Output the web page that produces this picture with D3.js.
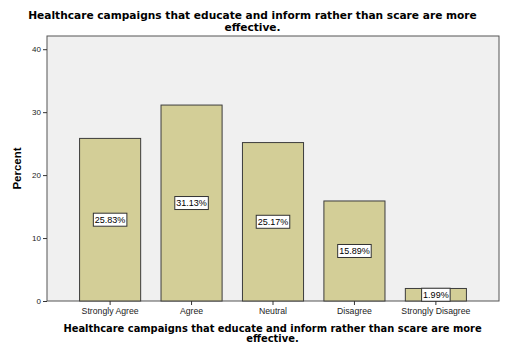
<!DOCTYPE html>
<html><head><meta charset="utf-8">
<script src="https://cdn.jsdelivr.net/npm/d3@7"></script>
<style>body{margin:0;background:#fff}</style>
</head><body>
<svg id="c" width="505" height="353"></svg>
<script>
const categories = ["Strongly Agree","Agree","Neutral","Disagree","Strongly Disagree"];
const values = [25.83, 31.13, 25.17, 15.89, 1.99];
const yTicks = [0, 10, 20, 30, 40];
const titleLines = ["Healthcare campaigns that educate and inform rather than scare are more","effective."];
const yTitle = "Percent";

const svg = d3.select("#c");
const L = 47, R = 499, T = 36, B = 301;
const font = "Arial, 'Liberation Sans', sans-serif";
const tfont = "'DejaVu Sans', Verdana, sans-serif";

const x = d3.scaleBand().domain(categories).range([L, R]).paddingInner(0.25).paddingOuter(0.4);
const y = d3.scaleLinear().domain([0, 42.1]).range([B, T]);

svg.append("rect").attr("x", L).attr("y", T).attr("width", R - L).attr("height", B - T)
  .attr("fill", "#f0f0f0").attr("stroke", "#555").attr("stroke-width", 1);

svg.selectAll("rect.bar").data(values).join("rect").attr("class", "bar")
  .attr("x", (d, i) => x(categories[i])).attr("width", x.bandwidth())
  .attr("y", d => y(d)).attr("height", d => y(0) - y(d))
  .attr("fill", "#d3ce97").attr("stroke", "#3c3c3c").attr("stroke-width", 1);

const lab = svg.selectAll("g.lab").data(values).join("g").attr("class", "lab")
  .attr("transform", (d, i) => `translate(${x(categories[i]) + x.bandwidth() / 2},${y(d / 2)})`);
lab.append("text").attr("text-anchor", "middle").attr("dy", "0.35em")
  .attr("font-family", font).attr("font-size", 9).attr("fill", "#000")
  .text(d => d.toFixed(2) + "%");
lab.each(function () {
  const g = d3.select(this);
  const bb = g.select("text").node().getBBox();
  g.insert("rect", "text").attr("x", bb.x - 1.5).attr("y", -6.5).attr("width", bb.width + 3).attr("height", 13)
    .attr("fill", "#fff").attr("stroke", "#333").attr("stroke-width", 1);
});

const ya = svg.append("g").attr("transform", `translate(${L},0)`)
  .call(d3.axisLeft(y).tickValues(yTicks).tickSize(4).tickPadding(2).tickFormat(d3.format("d")));
ya.select(".domain").remove();
ya.selectAll("line").attr("stroke", "#333");
ya.selectAll("text").attr("font-family", font).attr("font-size", 8).attr("fill", "#222");

const xa = svg.append("g").attr("transform", `translate(0,${B})`)
  .call(d3.axisBottom(x).tickSize(4).tickPadding(3));
xa.select(".domain").remove();
xa.selectAll("line").attr("stroke", "#333");
xa.selectAll("text").attr("font-family", font).attr("font-size", 8.7).attr("fill", "#222");

function title(cx, y0, dy, target) {
  const g = svg.append("g");
  const t = g.selectAll("text").data(titleLines).join("text")
    .attr("x", cx).attr("y", (d, i) => y0 + i * dy)
    .attr("font-family", tfont).attr("font-size", 10).attr("font-weight", "bold")
    .attr("text-anchor", "middle").attr("fill", "#000").text(d => d);
  const w = t.nodes()[0].getComputedTextLength();
  t.attr("font-size", 10 * target / w);
}
title(252.5, 18.5, 12.2, 449);
title(272.5, 331.5, 10.8, 419);

svg.append("text").attr("transform", `translate(21,${(T + B) / 2}) rotate(-90)`)
  .attr("text-anchor", "middle").attr("font-family", font).attr("font-size", 11.5)
  .attr("font-weight", "bold").text(yTitle);
</script>
</body></html>
